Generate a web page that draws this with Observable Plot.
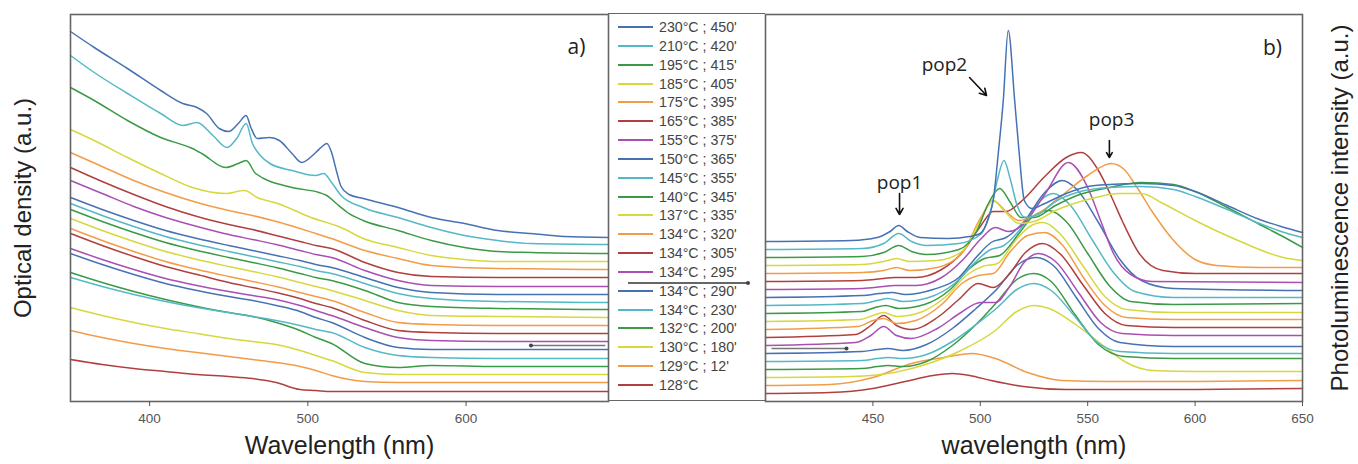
<!DOCTYPE html>
<html><head><meta charset="utf-8">
<script src="https://cdn.jsdelivr.net/npm/d3@7"></script>
<script src="https://cdn.jsdelivr.net/npm/@observablehq/plot@0.6"></script>
<style>
body{margin:0;background:#fff;}
#wrap{position:relative;width:1358px;height:464px;overflow:hidden;font-family:"Liberation Sans",Arial,sans-serif;}
#left,#right{position:absolute;top:0;}
#left{left:0;} #right{left:700px;}
#legend{position:absolute;left:608px;top:13px;width:157px;height:388px;box-sizing:border-box;border-top:1.6px solid #666;border-bottom:1.6px solid #666;}
.row{position:absolute;left:0;height:18px;width:157px;}
.sw{position:absolute;left:10px;top:8px;width:35px;height:2px;}
.lb{position:absolute;left:51px;top:0;font-size:14.2px;line-height:18px;color:#444;white-space:nowrap;}
.mk{position:absolute;left:20px;top:268px;width:120px;height:1.5px;background:#666;}
.mk::after{content:"";position:absolute;right:-2px;top:-1.5px;width:4.5px;height:4.5px;border-radius:50%;background:#444;}
</style></head>
<body><div id="wrap"><div id="left"></div><div id="legend"></div><div id="right"></div></div>
<script>
// ---------- legend / series (top to bottom) ----------
const seriesLabels = ["230°C ; 450'","210°C ; 420'","195°C ; 415'","185°C ; 405'","175°C ; 395'","165°C ; 385'","155°C ; 375'","150°C ; 365'","145°C ; 355'","140°C ; 345'","137°C ; 335'","134°C ; 320'","134°C ; 305'","134°C ; 295'","134°C ; 290'","134°C ; 230'","132°C ; 200'","130°C ; 180'","129°C ; 12'","128°C"];
const seriesColors = ["#4672b4","#55b8c6","#3a9a45","#d6d83e","#f39c48","#b0403f","#a94fb3","#4672b4","#55b8c6","#3a9a45","#d6d83e","#f39c48","#b0403f","#a94fb3","#4672b4","#55b8c6","#3a9a45","#d6d83e","#f39c48","#b0403f"];

// ---------- a) optical density, [wavelength nm, a.u.] ----------
const abs230 = [[350,370],[365,354],[386,333],[407,311],[421,298],[430,294],[436,288],[444,273],[450,270],[456,278],[461,286],[464,274],[468,263],[476,264],[482,261],[490,248],[496,239],[505,249],[509,255],[512,258],[515,249],[518,231],[521,215],[526,207],[535,203],[557,194],[578,184],[599,178],[620,171],[641,168],[662,165],[690,164]];
const abs210 = [[350,346],[365,329],[386,308],[407,288],[421,276],[430,279],[440,266],[449,254],[455,263],[461,278],[465,258],[470,246],[476,238],[490,231],[505,226],[510,228],[515,219],[521,206],[535,194],[557,184],[578,174],[599,166],[620,161],[641,158],[690,157]];
const abs195 = [[350,314],[365,301],[386,281],[407,264],[427,253],[433,248],[448,234],[456,238],[461,241],[467,228],[490,214],[507,209],[512,206],[518,198],[525,189],[535,181],[557,171],[578,161],[599,154],[620,150],[641,149],[690,148]];
const abs185 = [[350,272],[365,261],[386,244],[407,228],[427,214],[448,208],[460,211],[468,204],[481,198],[502,184],[521,174],[535,163],[557,154],[578,146],[599,142],[620,140],[690,140]];
const absGrid = [350,370,390,410,430,450,465,480,495,505,515,536,557,578,620,690];
const abs175 = [249,235,221,209,199,191,186,180,173,168,163,151,143,136,133,132];
const abs165 = [234,220,207,195,185,177,172,166,160,156,153,139,129,125,124,124];
const abs155 = [221,208,195,184,175,167,162,157,151,147,144,131,121,116,115,115];
const abs150 = [204,192,181,171,163,156,151,146,141,137,134,124,114,109,107,107];
const abs145 = [198,186,175,165,157,150,145,140,135,131,128,118,108,103,100,99];
const abs140 = [192,180,169,159,151,144,139,134,128,124,121,111,99,95,93,92];
const abs137 = [183,171,160,150,142,135,130,125,119,115,111,101,91,86,85,84];
const abs134_320 = [173,161,150,140,132,125,120,115,109,105,101,89,79,77,76,76];
const abs134_305 = [168,156,145,135,127,119,114,109,103,98,94,81,71,69,68,68];
const abs134_295 = [153,142,132,123,116,110,106,102,96,91,86,74,64,61,60,60];
const abs134_290 = [148,137,127,118,111,105,101,96,90,84,79,64,54,52,52,52];
const abs134_230 = [124,115,107,100,94,89,85,81,76,72,69,54,46,44,43,43];
const abs132 = [129,119,110,102,95,89,85,79,71,64,58,38,34,36,35,35];
const abs130 = [94,86,79,73,68,63,60,57,51,46,41,29,27,27,27,27];
const abs129 = [71,64,58,53,49,45,42,39,35,31,26,20,19,19,19,19];
const abs128 = [42,37,33,30,27,25,23,19,12,11,10,10,10,10,10,10];

// ---------- b) photoluminescence: [wavelength nm, intensity above own baseline] ----------
const plOffsets = [160,152,144,136,128,120,112,104,96,88,80,72,64,56,48,40,32,24,16,8];
const pl230 = [[400,0],[440,1],[452,4],[458,10],[462,16],[466,10],[472,4],[485,3],[495,5],[500,8],[504,25],[506,41],[508.5,91],[510.7,141],[513,211],[516,141],[518,91],[520.5,41],[524,33],[530,38],[540,48],[550,55],[560,57],[575,58],[590,56],[600,50],[615,36],[630,22],[640,15],[650,9]];
const pl210 = [[400,0],[445,1],[455,6],[462,16],[468,8],[475,4],[490,6],[500,15],[505,40],[508,70],[511,89],[514,70],[517,45],[521,32],[527,35],[535,48],[545,57],[560,62],[575,63],[590,60],[600,53],[615,40],[630,26],[640,18],[650,12]];
const pl195 = [[400,0],[445,1],[455,5],[462,12],[468,6],[475,3],[490,8],[498,25],[504,55],[509,69],[514,55],[519,40],[525,40],[535,52],[545,62],[560,70],[575,75],[590,73],[600,66],[615,50],[630,33],[640,22],[650,10]];
const pl185 = [[400,0],[445,1],[455,4],[461,7],[467,4],[480,5],[492,15],[500,45],[506,65],[511,55],[518,42],[525,44],[535,55],[550,66],[565,72],[575,72],[585,62],[600,45],[620,25],[641,8],[650,5]];
const pl175 = [[400,0],[445,1],[455,3],[461,6],[467,3],[480,6],[492,22],[500,55],[506,73],[512,62],[518,53],[527,60],[538,78],[550,98],[561,110],[567,104],[573,86],[580,62],[590,33],[600,14],[610,8],[630,6],[650,6]];
const pl165 = [[400,0],[445,1],[455,3],[460,4],[470,4],[482,12],[492,30],[500,55],[506,70],[512,70],[520,82],[530,105],[540,124],[547,129],[555,111],[561,85],[566,61],[574,28],[585,11],[600,8],[650,8]];
const pl155 = [[400,0],[445,1],[455,3],[460,4],[470,4],[482,12],[492,30],[500,50],[507,62],[513,58],[520,65],[530,95],[541,127],[550,102],[556,69],[562,36],[570,15],[580,8],[650,7]];
const pl150 = [[400,0],[445,2],[453,4],[459,5],[465,3],[478,8],[490,20],[498,40],[505,55],[512,60],[520,75],[530,105],[538,117],[545,108],[555,75],[565,38],[575,17],[590,9],[650,7]];
const pl145 = [[400,0],[445,2],[452,5],[457,7],[464,4],[476,8],[488,22],[497,42],[504,55],[511,60],[520,80],[528,105],[534,112],[542,100],[552,66],[562,33],[572,14],[590,8],[650,8]];
const pl140 = [[400,0],[445,2],[451,6],[456,8],[462,5],[474,9],[486,24],[495,45],[502,55],[509,58],[518,80],[525,98],[532,103],[540,92],[550,60],[560,28],[570,12],[590,9],[650,10]];
const pl137 = [[400,0],[444,2],[450,6],[455,9],[461,5],[472,9],[484,25],[494,47],[501,55],[508,58],[516,80],[523,95],[529,99],[537,88],[548,55],[558,25],[568,12],[590,9],[650,9]];
const pl134_320 = [[400,0],[443,3],[450,9],[455,11],[461,6],[470,9],[482,25],[492,47],[499,54],[506,56],[514,78],[522,94],[530,97],[538,85],[548,52],[558,24],[568,12],[590,10],[650,10]];
const pl134_305 = [[400,0],[442,3],[449,12],[455,22],[461,12],[468,8],[480,20],[490,38],[499,54],[506,50],[513,62],[521,85],[529,94],[537,84],[548,52],[558,24],[568,12],[590,10],[650,10]];
const pl134_295 = [[400,0],[442,3],[449,10],[455,19],[461,10],[468,7],[480,17],[491,33],[500,43],[507,43],[514,60],[520,82],[527,92],[535,84],[546,52],[556,23],[566,12],[590,10],[650,10]];
const pl134_290 = [[400,0],[445,2],[452,4],[457,5],[464,3],[475,9],[487,25],[498,45],[508,65],[517,88],[526,96],[534,88],[545,55],[555,25],[565,11],[590,7],[650,7]];
const pl134_230 = [[400,0],[445,1],[452,3],[457,4],[464,3],[475,7],[487,20],[498,37],[508,54],[517,72],[525,78],[533,71],[544,45],[554,20],[565,10],[590,8],[650,8]];
const pl132 = [[400,0],[445,1],[452,3],[457,4],[464,3],[475,8],[487,24],[498,45],[508,68],[517,90],[525,96],[533,88],[544,55],[555,25],[567,13],[590,11],[650,11]];
const pl130 = [[400,0],[440,1],[460,5],[476,14],[491,27],[507,47],[517,66],[525,72],[532,69],[545,52],[556,34],[568,15],[580,7],[600,6],[650,6]];
const pl129 = [[400,0],[430,1],[450,8],[468,22],[483,28],[496,32],[507,27],[522,13],[538,5],[560,4],[600,4],[650,5]];
const pl128 = [[400,0],[430,1],[450,5],[465,12],[478,18],[487,20],[495,18],[505,13],[520,7],[540,4],[600,4],[650,5]];

// annotations (wavelength nm, a.u.)
const popLabels = ["pop1","pop2","pop3"];
const popTextX = [462.4, 483.3, 561.1];
const popTextY = [219, 337, 282];
const popArrowX1 = [462.4, 495.0, 560.1];
const popArrowY1 = [208, 324, 261];
const popArrowX2 = [462.4, 502.9, 560.1];
const popArrowY2 = [187, 306, 244];
// stray marker segments present in the original figure (nm, a.u.)
const strayA = {x1: 641, x2: 688, y: 56};
const strayB = {x1: 402.8, x2: 437.7, y: 53};

// ---------- build tables ----------
const absPairs = [abs230, abs210, abs195, abs185];
const absGridSeries = [abs175, abs165, abs155, abs150, abs145, abs140, abs137, abs134_320, abs134_305, abs134_295, abs134_290, abs134_230, abs132, abs130, abs129, abs128];
const absData = [];
absPairs.forEach((s, i) => s.forEach(([x, y]) => absData.push({x, y, k: i})));
absGridSeries.forEach((s, j) => s.forEach((y, n) => absData.push({x: absGrid[n], y, k: j + 4})));
const plSeries = [pl230, pl210, pl195, pl185, pl175, pl165, pl155, pl150, pl145, pl140, pl137, pl134_320, pl134_305, pl134_295, pl134_290, pl134_230, pl132, pl130, pl129, pl128];
const plData = [];
plSeries.forEach((s, i) => s.forEach(([x, h]) => plData.push({x, y: h + plOffsets[i], k: i})));

const byK = (data, k) => data.filter(d => d.k === k);
const order = d3.range(19, -1, -1);
const font = "Liberation Sans, Arial, sans-serif";
const colorScale = {type: "ordinal", domain: d3.range(20), range: seriesColors};

const left = Plot.plot({
  width: 620, height: 464,
  marginLeft: 70, marginRight: 12, marginTop: 14, marginBottom: 63,
  x: {domain: [350, 690]},
  y: {domain: [0, 387], axis: null},
  color: colorScale,
  style: {fontFamily: font, background: "transparent", overflow: "visible"},
  marks: [
    ...order.map(k => Plot.line(byK(absData, k), {x: "x", y: "y", stroke: "k", strokeWidth: 1.5, curve: "monotone-x"})),
    Plot.link([strayA], {x1: "x1", x2: "x2", y1: "y", y2: "y", stroke: "#777", strokeWidth: 1.4}),
    Plot.dot([strayA], {x: "x1", y: "y", r: 2, fill: "#444"}),
    Plot.frame({stroke: "#666", strokeWidth: 1.6}),
    Plot.axisX({ticks: [400, 500, 600], tickSize: 5, tickPadding: 7, fontSize: 13.5, stroke: "#555", fill: "#555", label: null}),
    Plot.text(["Wavelength (nm)"], {frameAnchor: "bottom", dy: 44, fontSize: 25, fill: "#222", textAnchor: "middle", lineAnchor: "middle"}),
    Plot.text(["Optical density (a.u.)"], {frameAnchor: "left", dx: -47, rotate: -90, fontSize: 24, fill: "#222", textAnchor: "middle", lineAnchor: "middle"}),
    Plot.text(["a)"], {frameAnchor: "top-right", dx: -32, dy: 33, fontSize: 21, fontFamily: "Open Sans", fill: "#222", textAnchor: "middle", lineAnchor: "middle"})
  ]
});
document.getElementById("left").append(left);

const right = Plot.plot({
  width: 658, height: 464,
  marginLeft: 65, marginRight: 56, marginTop: 14, marginBottom: 63,
  x: {domain: [400, 650]},
  y: {domain: [0, 387], axis: null},
  color: colorScale,
  style: {fontFamily: font, background: "transparent", overflow: "visible"},
  marks: [
    ...order.map(k => Plot.line(byK(plData, k), {x: "x", y: "y", stroke: "k", strokeWidth: 1.5, curve: "monotone-x"})),
    Plot.link([strayB], {x1: "x1", x2: "x2", y1: "y", y2: "y", stroke: "#777", strokeWidth: 1.4}),
    Plot.dot([strayB], {x: "x2", y: "y", r: 2, fill: "#444"}),
    Plot.frame({stroke: "#666", strokeWidth: 1.6}),
    Plot.axisX({ticks: [450, 500, 550, 600, 650], tickSize: 5, tickPadding: 7, fontSize: 13.5, stroke: "#555", fill: "#555", label: null}),
    Plot.text(["wavelength (nm)"], {frameAnchor: "bottom", dy: 44, fontSize: 25, fill: "#222", textAnchor: "middle", lineAnchor: "middle"}),
    Plot.text(["Photoluminescence intensity (a.u.)"], {frameAnchor: "right", dx: 38, rotate: -90, fontSize: 24, fill: "#222", textAnchor: "middle", lineAnchor: "middle"}),
    Plot.text(["b)"], {frameAnchor: "top-right", dx: -30, dy: 34, fontSize: 21, fontFamily: "Open Sans", fill: "#222", textAnchor: "middle", lineAnchor: "middle"}),
    Plot.text(popLabels, {x: (d, i) => popTextX[i], y: (d, i) => popTextY[i], text: d => d, fontSize: 19, fontFamily: "Open Sans", fill: "#222"}),
    Plot.arrow(popLabels, {x1: (d, i) => popArrowX1[i], y1: (d, i) => popArrowY1[i], x2: (d, i) => popArrowX2[i], y2: (d, i) => popArrowY2[i], stroke: "#111", strokeWidth: 1.6, headLength: 7})
  ]
});
document.getElementById("right").append(right);

const leg = document.getElementById("legend");
seriesLabels.forEach((t, i) => {
  const r = document.createElement("div");
  r.className = "row";
  r.style.top = (4 + i * 18.84) + "px";
  r.innerHTML = `<div class="sw" style="background:${seriesColors[i]}"></div><div class="lb">${t}</div>`;
  leg.append(r);
});
const mk = document.createElement("div");
mk.className = "mk";
leg.append(mk);
</script></body></html>
